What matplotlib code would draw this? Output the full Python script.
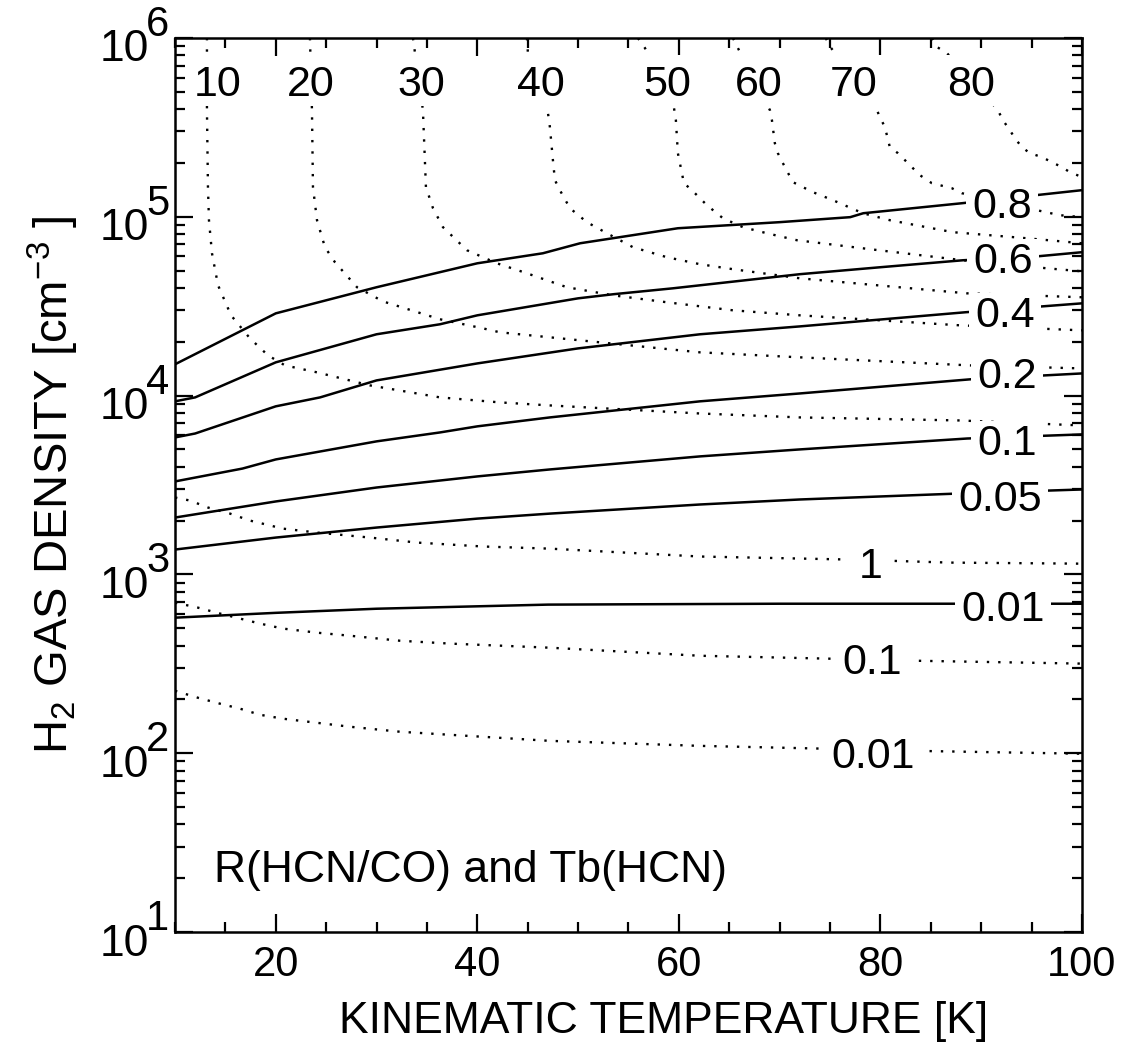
import numpy as np
import matplotlib
matplotlib.use("Agg")
import matplotlib.pyplot as plt
import matplotlib.transforms as mtransforms
from matplotlib.ticker import MultipleLocator, LogLocator, NullFormatter
from matplotlib.patches import Rectangle

plt.rcParams['font.family'] = ['Liberation Sans', 'DejaVu Sans']
plt.rcParams['mathtext.fontset'] = 'custom'
plt.rcParams['mathtext.rm'] = 'Liberation Sans'
plt.rcParams['mathtext.it'] = 'Liberation Sans:italic'
plt.rcParams['mathtext.bf'] = 'Liberation Sans:bold'

# ---------------- data: R(HCN/CO) contours (solid) ----------------
ratio_levels = ['0.01', '0.05', '0.1', '0.2', '0.4', '0.6', '0.8']

r001_T = [10, 20, 30, 47, 70, 100]
r001_logn = [2.758, 2.785, 2.808, 2.831, 2.836, 2.836]

r005_T = [10, 20, 30, 40, 47.2, 62.1, 72, 87.6, 100]
r005_logn = [3.139, 3.206, 3.262, 3.312, 3.340, 3.391, 3.419, 3.452, 3.475]

r01_T = [10, 20, 30, 40, 47.2, 62.1, 72, 88.6, 100]
r01_logn = [3.318, 3.408, 3.486, 3.548, 3.587, 3.660, 3.699, 3.760, 3.783]

r02_T = [10, 16.7, 20, 30, 36.3, 40, 47.2, 62.1, 72, 88.9, 100]
r02_logn = [3.520, 3.592, 3.643, 3.744, 3.794, 3.828, 3.878, 3.968, 4.012, 4.091, 4.124]

r04_T = [10, 12, 20, 24.4, 30, 40, 50, 62.1, 72, 88.4, 100]
r04_logn = [3.766, 3.788, 3.940, 3.990, 4.085, 4.180, 4.264, 4.343, 4.387, 4.466, 4.516]

r06_T = [10, 12, 20, 30, 36.3, 40, 50, 53.5, 59.4, 72, 80, 88.2, 95.6, 100]
r06_logn = [3.968, 3.990, 4.186, 4.343, 4.399, 4.449, 4.544, 4.567, 4.600, 4.679, 4.718, 4.757, 4.779, 4.802]

r08_T = [10, 20, 30, 40, 46.5, 50.2, 59.9, 70.0, 77.0, 78.3, 88.1, 100]
r08_logn = [4.175, 4.460, 4.606, 4.740, 4.796, 4.852, 4.936, 4.970, 4.998, 5.020, 5.076, 5.149]

# ---------------- data: Tb(HCN) contours (dotted) ----------------
tb_levels = ['10', '20', '30', '40', '50', '60', '70', '80', '1', '0.1', '0.01']

tb10_T = [13.17, 13.17, 13.27, 13.37, 13.67, 14.27, 15.56, 17.44, 19.23, 20.91, 24.09, 29.35,
          36.29, 42.24, 47.20, 62.08, 72.0, 87.88, 100]
tb10_logn = [6.0, 5.597, 5.166, 4.981, 4.796, 4.617, 4.449, 4.320, 4.225, 4.169, 4.130, 4.057,
             3.990, 3.962, 3.945, 3.900, 3.878, 3.861, 3.833]

tb20_T = [23.39, 23.59, 23.69, 24.09, 24.88, 25.87, 28.06, 30.63, 36.29, 40.56, 42.24, 47.2,
          62.08, 72.0, 88.87, 100]
tb20_logn = [6.0, 5.597, 5.166, 4.981, 4.830, 4.746, 4.606, 4.527, 4.427, 4.376, 4.354, 4.326,
             4.242, 4.214, 4.169, 4.152]

tb30_T = [33.61, 34.60, 34.90, 35.60, 36.59, 38.97, 41.94, 44.92, 48.89, 53.45, 58.81, 65.36,
          72.0, 87.88, 100]
tb30_logn = [6.0, 5.597, 5.166, 5.048, 4.942, 4.813, 4.740, 4.684, 4.606, 4.561, 4.522, 4.477,
             4.449, 4.393, 4.365]

tb40_T = [44.92, 45.02, 46.90, 47.20, 47.50, 47.70, 48.19, 49.19, 50.87, 52.86, 55.44, 58.81,
          62.08, 65.36, 72.0, 88.57, 100]
tb40_logn = [6.0, 5.916, 5.625, 5.502, 5.317, 5.205, 5.149, 5.048, 4.970, 4.908, 4.830, 4.774,
             4.735, 4.707, 4.656, 4.572, 4.550]

tb50_T = [55.93, 56.63, 57.12, 59.50, 59.70, 59.90, 60.30, 60.50, 61.29, 62.78, 64.37, 66.35,
          68.73, 71.71, 78.95, 88.17, 96.51, 100]
tb50_logn = [6.0, 5.944, 5.894, 5.614, 5.541, 5.356, 5.244, 5.188, 5.149, 5.065, 4.992, 4.942,
             4.908, 4.869, 4.819, 4.757, 4.712, 4.695]

tb60_T = [65.36, 66.05, 69.03, 69.23, 69.52, 69.82, 70.32, 71.31, 73.29, 75.28, 78.25, 80.93,
          87.18, 94.52, 100]
tb60_logn = [6.0, 5.922, 5.597, 5.541, 5.412, 5.356, 5.300, 5.194, 5.138, 5.093, 5.020, 4.981,
             4.914, 4.880, 4.852]

tb70_T = [74.58, 74.88, 75.48, 79.44, 79.94, 80.44, 80.93, 81.73, 82.62, 83.91, 85.10, 87.08,
          88.08, 95.52, 97.80, 100]
tb70_logn = [6.0, 5.961, 5.916, 5.625, 5.558, 5.502, 5.390, 5.356, 5.306, 5.233, 5.188, 5.160,
             5.132, 5.037, 5.009, 4.998]

tb80_T = [85.10, 85.60, 86.59, 91.05, 91.65, 92.14, 92.84, 93.33, 94.03, 94.82, 96.01, 97.0,
          97.99, 98.79, 100]
tb80_logn = [6.0, 5.950, 5.916, 5.636, 5.597, 5.541, 5.485, 5.440, 5.390, 5.356, 5.334, 5.306,
             5.278, 5.250, 5.222]

tb1_T = [10, 11.49, 13.27, 15.46, 17.44, 20.71, 24.09, 29.35, 34.01, 40.56, 47.20, 62.08,
         76.96, 86.88, 100]
tb1_logn = [3.430, 3.413, 3.374, 3.340, 3.301, 3.256, 3.234, 3.206, 3.178, 3.156, 3.144, 3.100,
            3.083, 3.066, 3.060]

tb01_T = [10, 12.28, 14.46, 16.45, 18.43, 20.71, 24.09, 27.36, 32.32, 37.28, 47.20, 62.08,
          74.68, 83.61, 100]
tb01_logn = [2.842, 2.814, 2.781, 2.753, 2.725, 2.697, 2.674, 2.657, 2.629, 2.613, 2.590, 2.545,
             2.529, 2.517, 2.501]

tb001_T = [10, 12.28, 14.46, 16.45, 18.43, 20.71, 24.09, 27.36, 32.32, 37.28, 47.20, 62.08,
           74.68, 83.61, 100]
tb001_logn = [2.349, 2.310, 2.277, 2.249, 2.215, 2.193, 2.170, 2.148, 2.120, 2.103, 2.069, 2.041,
              2.025, 2.013, 1.997]

x_ticks = [20, 40, 60, 80, 100]
y_decades = [1, 2, 3, 4, 5, 6]

ratio_curves = [(r001_T, r001_logn), (r005_T, r005_logn), (r01_T, r01_logn), (r02_T, r02_logn),
                (r04_T, r04_logn), (r06_T, r06_logn), (r08_T, r08_logn)]
tb_curves = [(tb10_T, tb10_logn), (tb20_T, tb20_logn), (tb30_T, tb30_logn), (tb40_T, tb40_logn),
             (tb50_T, tb50_logn), (tb60_T, tb60_logn), (tb70_T, tb70_logn), (tb80_T, tb80_logn),
             (tb1_T, tb1_logn), (tb01_T, tb01_logn), (tb001_T, tb001_logn)]

# label anchor positions (layout): (T, log n of text baseline)
ratio_label_pos = [(92.14, 2.741), (91.85, 3.357), (92.54, 3.665), (92.54, 4.040),
                   (92.34, 4.382), (92.14, 4.684), (92.04, 4.992)]
tb_label_pos = [(14.27, 5.675), (23.49, 5.675), (34.40, 5.675), (46.31, 5.675),
                (58.81, 5.675), (67.94, 5.675), (77.36, 5.675), (88.97, 5.675),
                (79.05, 2.982), (79.15, 2.445), (79.25, 1.918)]

# ---------------- figure ----------------
fig = plt.figure(figsize=(11.26, 10.44), dpi=100)
ax = fig.add_axes([175 / 1126, 1 - 932 / 1044, 907 / 1126, 894 / 1044])
ax.set_xlim(10, 100)
ax.set_yscale('log')
ax.set_ylim(10, 1e6)

for T, lg in ratio_curves:
    ax.plot(T, 10 ** np.array(lg), color='black', lw=1.8, zorder=2)
for T, lg in tb_curves:
    ax.plot(T, 10 ** np.array(lg), color='black', lw=1.7, linestyle=(0, (1, 3.8)),
            dash_capstyle='butt', zorder=2)

# ticks
ax.xaxis.set_major_locator(MultipleLocator(20))
ax.xaxis.set_minor_locator(MultipleLocator(5))
ax.yaxis.set_major_locator(LogLocator(base=10, numticks=20))
ax.yaxis.set_minor_locator(LogLocator(base=10, subs=np.arange(2, 10), numticks=100))
ax.yaxis.set_major_formatter(NullFormatter())
ax.yaxis.set_minor_formatter(NullFormatter())
ax.tick_params(which='both', direction='in', top=True, right=True, width=1.6, color='black')
ax.tick_params(which='major', length=13, labelsize=30, pad=9)
ax.tick_params(which='minor', length=7)
ax.set_xticks(x_ticks)
for sp in ax.spines.values():
    sp.set_linewidth(1.8)

# y tick labels as 10 + exponent
trans = mtransforms.blended_transform_factory(ax.transAxes, ax.transData)
base_tr = mtransforms.offset_copy(trans, fig=fig, x=0, y=-12, units='dots')
exp_tr = mtransforms.offset_copy(trans, fig=fig, x=0, y=13, units='dots')
for k in y_decades:
    ax.text((149 - 175) / 907, 10.0 ** k, '10', transform=base_tr, ha='right', va='center',
            fontsize=32, clip_on=False)
    ax.text((146 - 175) / 907, 10.0 ** k, str(k), transform=exp_tr, ha='left', va='center',
            fontsize=30, clip_on=False)

ax.set_xlabel('KINEMATIC TEMPERATURE [K]', fontsize=32)
ax.xaxis.set_label_coords(0.539, -0.077)
ax.set_ylabel(r'H$_2$ GAS DENSITY [cm$^{-3}$ ]', fontsize=34)
ax.yaxis.set_label_coords(-0.104, 0.5)

ax.text(0.043, 0.056, 'R(HCN/CO) and Tb(HCN)', transform=ax.transAxes, fontsize=32,
        ha='left', va='baseline')

# contour labels
label_texts = []
for lab, (t, lg) in zip(ratio_levels, ratio_label_pos):
    label_texts.append((ax.text(t, 10 ** lg, lab, fontsize=31, ha='center', va='baseline', zorder=5),
                        6, 3))
for i, (lab, (t, lg)) in enumerate(zip(tb_levels, tb_label_pos)):
    if i < 8:
        padx, pady = 6, 10
    else:
        padx, pady = 11, 4
    label_texts.append((ax.text(t, 10 ** lg, lab, fontsize=31, ha='center', va='baseline', zorder=5),
                        padx, pady))

fig.canvas.draw()
renderer = fig.canvas.get_renderer()
cap = 0.72 * 31 * 100 / 72.0
for txt, padx, pady in label_texts:
    bb = txt.get_window_extent(renderer)
    xb, yb = ax.transData.transform(txt.get_position())
    rect = Rectangle((bb.x0 - padx, yb - pady), bb.width + 2 * padx, cap + 2 * pady,
                     transform=mtransforms.IdentityTransform(), facecolor='white',
                     edgecolor='none', zorder=4, clip_on=False)
    ax.add_artist(rect)

fig.savefig('out.png', dpi=100)
